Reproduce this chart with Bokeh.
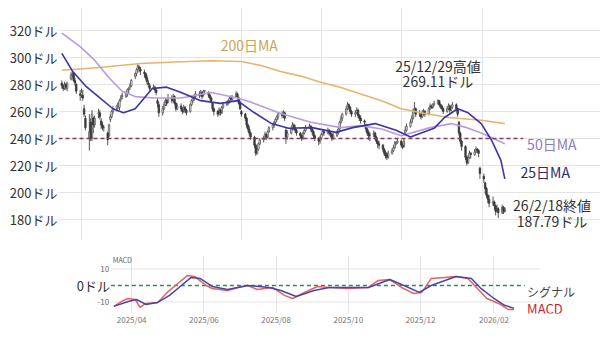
import numpy as np
import pandas as pd
from bokeh.plotting import figure
from bokeh.layouts import column
from bokeh.models import (Range1d, Label, DatetimeTickFormatter, FixedTicker, ColumnDataSource)
from bokeh.embed import file_html
from bokeh.resources import INLINE

FONT = "Noto Sans CJK JP"

# ---------------- data ----------------
dates = pd.bdate_range("2025-03-17", "2026-02-18")

opens = [281,279,277,280,277, 284,287,288,283,280, 273,272,272,262,255, 240,252,240,255,250,
         258,259,253,250,248, 244,242,254,256,260, 262,264,263,269,271, 271,273,276,278,279,
         286,288,291,293,291, 289,288,285,281,279, 277,278,276,268,265, 259,262,265,268,267,
         270,268,271,266,262, 264,262,260,263,261, 260,265,268,270,271, 273,272,274,272,275,
         274,272,270,266,262, 260,258,261,259,263, 265,266,268,270,269, 271,273,270,266,260,
         258,255,250,247,244, 241,235,229,232,236, 239,240,243,241,245, 248,250,252,254,256,
         258,257,259,246,241, 244,247,250,248,246, 244,242,240,244,246, 248,249,247,245,242,
         240,238,240,243,245, 244,246,244,243,240, 242,244,247,252,255, 258,262,265,263,260,
         258,259,261,257,255, 253,250,247,244,242, 243,244,241,238,236, 235,232,229,228,226,
         229,231,233,236,237, 238,235,234,244,246, 249,252,255,260,262, 258,258,256,259,260,
         258,262,264,263,265, 266,268,265,264,262, 260,262,264,261,263, 265,262,252,244,238,
         234,226,222,226,229, 228,230,232,231,218, 212,207,203,198,195, 192,193,190,186,188,
         185,189,186]
highs = [283,280,282,281,282, 289,290,289,285,281, 276,277,276,265,257, 258,255,261,256,257,
         262,261,255,252,250, 245,251,258,261,264, 265,267,269,272,274, 275,277,278,281,284,
         289,292,295,294,293, 291,289,287,283,281, 280,279,277,270,267, 264,267,270,269,273,
         272,273,272,267,266, 266,263,265,264,262, 266,269,271,273,275, 275,276,275,276,276,
         275,273,271,267,263, 261,263,262,264,266, 268,269,271,272,272, 275,274,271,268,261,
         259,256,251,249,245, 242,236,234,237,240, 242,245,244,246,249, 251,253,255,257,259,
         260,261,260,248,246, 249,252,251,250,247, 245,243,245,247,250, 251,250,248,246,243,
         241,242,244,247,246, 248,247,245,244,244, 246,248,253,257,259, 264,267,266,264,261,
         261,263,262,258,257, 254,251,248,246,245, 246,245,242,239,238, 236,233,231,230,231,
         233,235,238,238,240, 239,237,240,249,251, 254,257,262,267,263, 261,259,261,262,261,
         263,266,265,266,268, 269.11,268,266,265,263, 264,266,265,265,267, 266,263,253,245,239,
         235,227,228,231,230, 232,234,233,232,219, 214,208,204,199,198, 197,194,191,191,189,
         191,190,189]
lows = [277,275,276,276,275, 283,285,282,279,273, 268,270,268,256,246, 231,238,238,244,248,
        255,254,247,246,245, 235,241,252,255,258, 260,262,261,267,269, 270,271,273,276,278,
        284,286,289,289,287, 285,283,280,278,275, 276,274,272,263,256, 257,261,264,264,266,
        266,267,265,260,261, 260,258,259,259,257, 259,264,266,268,270, 270,271,269,271,274,
        270,268,266,260,257, 256,257,257,258,262, 264,265,266,267,268, 270,269,265,261,256,
        253,248,245,242,239, 233,227,228,231,235, 237,239,239,240,244, 246,248,250,252,254,
        255,255,253,236,239, 243,246,246,244,242, 240,238,239,243,245, 247,245,243,240,238,
        235,236,239,242,242, 243,242,241,238,239, 241,243,246,251,253, 257,261,261,258,256,
        256,258,255,253,251, 249,245,242,239,238, 241,239,236,233,232, 230,227,225,224,225,
        228,230,232,235,236, 233,232,233,243,245, 248,251,254,259,256, 256,254,255,257,256,
        257,261,262,262,264, 265,263,262,261,258, 259,261,259,260,262, 260,256,242,236,231,
        224,220,221,225,225, 227,229,229,226,210, 207,199,196,192,189, 190,187,183,185,181,
        184,184,185]
closes = [279,277,280,278,281, 287,288,283,281,275, 272,274,270,258,248, 245,240,258,250,255,
          259,256,250,248,248, 239,250,256,260,262, 264,266,268,270,272, 274,276,277,279,283,
          288,291,294,292,290, 288,285,282,280,277, 278,276,274,266,259, 262,265,268,266,270,
          268,271,266,262,264, 262,260,263,261,259, 265,268,270,271,273, 272,274,271,275,275,
          272,270,268,262,260, 258,261,259,263,265, 266,268,270,269,271, 273,270,266,262,258,
          255,250,247,244,241, 235,229,232,236,239, 240,243,241,245,248, 250,252,254,256,258,
          257,259,255,241,244, 247,250,248,246,244, 242,240,244,246,248, 249,247,245,242,240,
          238,240,243,245,244, 246,244,243,240,242, 244,247,252,255,258, 262,265,263,260,258,
          259,261,257,255,253, 252,247,244,242,243, 244,241,238,236,235, 232,229,227,226,229,
          231,233,236,237,238, 235,234,238,246,249, 252,255,260,262,258, 258,256,259,260,258,
          262,264,263,265,266, 268,265,264,262,260, 262,264,261,263,265, 262,258,244,238,234,
          226,222,226,229,228, 230,232,231,229,214, 210,203,198,195,192, 193,190,186,188,185,
          189,186,187.79]

ma200_dates = ["2025-03-17","2025-04-15","2025-05-16","2025-06-16","2025-07-09","2025-08-01",
               "2025-08-16","2025-08-31","2025-09-16","2025-10-01","2025-10-16","2025-10-31",
               "2025-11-16","2025-12-01","2025-12-16","2026-01-06","2026-01-31","2026-02-18"]
ma200_vals = [290.5,292.6,295.5,296.8,297.5,297,294,289.6,286,281.5,277.8,273,268,262,259,
              255.5,253.5,251]

ma50_dates = ["2025-03-17","2025-03-31","2025-04-11","2025-04-22","2025-05-02","2025-05-12",
              "2025-05-27","2025-06-16","2025-07-09","2025-07-29","2025-08-08","2025-08-31",
              "2025-09-23","2025-10-16","2025-10-31","2025-11-16","2025-12-01","2025-12-23",
              "2026-01-08","2026-01-20","2026-01-31","2026-02-18"]
ma50_vals = [318,308,298,285,275,271,270,270,274,270,267,258.5,252,248,249.5,247,242,248,251,
             248,244,236]

ma25_dates = ["2025-03-17","2025-03-25","2025-04-04","2025-04-15","2025-04-25","2025-05-03",
              "2025-05-12","2025-05-25","2025-06-05","2025-06-16","2025-07-01","2025-07-16",
              "2025-07-29","2025-08-11","2025-08-24","2025-09-06","2025-09-24","2025-10-12",
              "2025-10-25","2025-11-11","2025-11-27","2025-12-08","2025-12-26","2026-01-03",
              "2026-01-13","2026-01-21","2026-01-31","2026-02-08","2026-02-15","2026-02-18"]
ma25_vals = [303,290,279,270,262,259,262,277,278,274,268,266,268,259,251,247.5,248,244.5,248,
             251,246,241,247.5,255.5,262,259,251,238.5,223.7,210]

support_level = 240

macd_dates = ["2025-03-17","2025-03-25","2025-03-29","2025-04-04","2025-04-08","2025-04-13",
              "2025-04-23","2025-05-01","2025-05-11","2025-05-18","2025-05-24","2025-06-03",
              "2025-06-08","2025-06-21","2025-06-30","2025-07-08","2025-07-16","2025-07-29",
              "2025-08-08","2025-08-15","2025-08-25","2025-09-05","2025-09-15","2025-09-30",
              "2025-10-18","2025-10-26","2025-11-05","2025-11-15","2025-11-25","2025-12-02",
              "2025-12-10","2025-12-21","2025-12-31","2026-01-10","2026-01-18","2026-01-26",
              "2026-02-05","2026-02-13","2026-02-18"]
macd_vals = [-12.7,-9.1,-7.9,-8.5,-13.3,-10.9,-10.3,-4.2,1.8,6,5.5,0,-1.8,-3,-1.2,0,-2.4,-1.2,
             -6,-7.9,-4.2,-0.6,-1.2,-1.8,-1.2,3,3.6,-1.2,-4.8,-4.2,4.2,4.8,5.5,4.2,-1.8,-7.9,
             -10.9,-14.5,-14.5]

signal_dates = ["2025-03-17","2025-03-29","2025-04-05","2025-04-13","2025-04-23","2025-05-03",
                "2025-05-13","2025-05-21","2025-05-29","2025-06-08","2025-06-21","2025-07-08",
                "2025-07-26","2025-08-05","2025-08-18","2025-09-02","2025-09-15","2025-10-18",
                "2025-11-05","2025-11-17","2025-11-30","2025-12-10","2025-12-31","2026-01-13",
                "2026-01-21","2026-01-31","2026-02-10","2026-02-18"]
signal_vals = [-12.7,-9.7,-8.5,-11.5,-10.3,-6,0,4.8,4.2,-0.6,-2.4,0,-1.2,-3,-6.7,-3,-1.2,-1.2,
               3.6,0,-4.2,0,5.5,4.2,-1.8,-7.3,-12,-13.9]

price_ticks = [180, 200, 220, 240, 260, 280, 300, 320]
macd_ticks = [-10, 0, 10]
month_ticks = ["2025-04-01", "2025-06-01", "2025-08-01", "2025-10-01", "2025-12-01",
               "2026-02-01"]


def ms(s):
    return pd.Timestamp(s).value / 1e6


PLOT_LEFT = "2025-03-14 10:48"     # left edge of the price frame
GRID_RIGHT = "2026-03-12"          # where the horizontal grid lines stop
VIEW_RIGHT = "2026-05-02"          # right edge of the canvas
month_ms = [ms(d) for d in month_ticks]

# ---------------- main price chart ----------------
p = figure(width=600, height=248, x_axis_type="datetime",
           x_range=Range1d(ms(PLOT_LEFT), ms(VIEW_RIGHT)),
           y_range=Range1d(164.4, 337), output_backend="svg", toolbar_location=None,
           min_border_left=58, min_border_right=0, min_border_top=7, min_border_bottom=8)
p.outline_line_color = None
p.xaxis.visible = False
p.xgrid.ticker = FixedTicker(ticks=month_ms, minor_ticks=[])
p.ygrid.ticker = FixedTicker(ticks=price_ticks, minor_ticks=[])
p.ygrid.bounds = (ms(PLOT_LEFT), ms(GRID_RIGHT))
p.xgrid.grid_line_color = "#e4e4e4"
p.ygrid.grid_line_color = "#e4e4e4"
p.yaxis.ticker = FixedTicker(ticks=price_ticks, minor_ticks=[])
p.yaxis.major_label_overrides = {t: f"{t}ドル" for t in price_ticks}
p.yaxis.axis_line_color = None
p.yaxis.major_tick_line_color = None
p.yaxis.minor_tick_line_color = None
p.yaxis.major_tick_out = 0
p.yaxis.major_tick_in = 0
p.yaxis.major_label_standoff = 1
p.yaxis.major_label_text_font = FONT
p.yaxis.major_label_text_font_size = "13px"
p.yaxis.major_label_text_color = "#333333"

o = np.array(opens, dtype=float)
c = np.array(closes, dtype=float)
up = c >= o
src_all = ColumnDataSource(dict(date=dates, high=highs, low=lows))
src_up = ColumnDataSource(dict(date=dates[up], top=c[up], bottom=o[up]))
src_dn = ColumnDataSource(dict(date=dates[~up], top=o[~up], bottom=c[~up]))
bar_w = 1.1 * 86400000

p.segment(x0="date", y0="high", x1="date", y1="low", source=src_all,
          line_color="#555555", line_width=1)
p.vbar(x="date", width=bar_w, top="top", bottom="bottom", source=src_up,
       fill_color="white", line_color="#555555", line_width=0.8)
p.vbar(x="date", width=bar_w, top="top", bottom="bottom", source=src_dn,
       fill_color="#3a3a3a", line_color="#3a3a3a", line_width=0.8)

p.line([ms(d) for d in ma200_dates], ma200_vals, line_color="#E6B46E", line_width=1.6)
p.line([ms(d) for d in ma50_dates], ma50_vals, line_color="#B99BE0", line_width=1.6)
p.line([ms(d) for d in ma25_dates], ma25_vals, line_color="#3C33A6", line_width=1.6)
p.line([ms(PLOT_LEFT), ms("2026-03-04")], [support_level, support_level],
       line_color="#7B3C5E", line_width=1.5, line_dash="4 3")


def lab(fig, x, y, text, color, size, align="left"):
    fig.add_layout(Label(x=ms(x), y=y, text=text, text_color=color, text_font=FONT,
                         text_font_size=size, text_align=align, text_baseline="middle"))


lab(p, "2025-08-07", 309, "200日MA", "#C9A45C", "14px", "center")
lab(p, "2025-12-29", 294, "25/12/29高値", "#333333", "14px", "center")
lab(p, "2025-12-29", 282.2, "269.11ドル", "#333333", "14px", "center")
lab(p, "2026-03-07", 235.6, "50日MA", "#8E7DB8", "14px", "left")
lab(p, "2026-03-02", 214.8, "25日MA", "#2C2A6C", "14px", "left")
lab(p, "2026-03-26", 190.4, "26/2/18終値", "#333333", "14px", "center")
lab(p, "2026-03-26", 178.5, "187.79ドル", "#333333", "14px", "center")

# ---------------- MACD pane ----------------
MACD_LEFT = "2025-01-29 04:33"     # canvas left edge for the MACD pane
m = figure(width=600, height=90, x_axis_type="datetime",
           x_range=Range1d(ms(MACD_LEFT), ms(VIEW_RIGHT)),
           y_range=Range1d(-17, 18.2), output_backend="svg", toolbar_location=None,
           min_border_left=0, min_border_right=0, min_border_top=7, min_border_bottom=25,
           y_axis_location=None)
m.outline_line_color = None
m.xaxis.ticker = FixedTicker(ticks=month_ms, minor_ticks=[])
m.xaxis.formatter = DatetimeTickFormatter(months="%Y/%m", years="%Y/%m", days="%Y/%m")
m.xaxis.axis_line_color = None
m.xaxis.major_tick_line_color = None
m.xaxis.minor_tick_line_color = None
m.xaxis.major_tick_out = 0
m.xaxis.major_tick_in = 0
m.xaxis.major_label_standoff = 0
m.xaxis.major_label_text_font = FONT
m.xaxis.major_label_text_font_size = "8px"
m.xaxis.major_label_text_color = "#777777"
m.xgrid.ticker = FixedTicker(ticks=month_ms, minor_ticks=[])
m.xgrid.grid_line_color = "#e4e4e4"
m.xgrid.bounds = (-17, 18.2)
m.ygrid.visible = False
# horizontal grid lines at the MACD ticks
for t in macd_ticks:
    if t != 0:
        m.line([ms(PLOT_LEFT), ms(GRID_RIGHT)], [t, t], line_color="#e4e4e4", line_width=1)

m.line([ms(PLOT_LEFT), ms("2026-02-27")], [0, 0], line_color="#2E8B57",
       line_width=1.5, line_dash="4 3")
m.line([ms(d) for d in macd_dates], macd_vals, line_color="#E8605F", line_width=1.5)
m.line([ms(d) for d in signal_dates], signal_vals, line_color="#4646A8", line_width=1.5)

for t in macd_ticks:
    if t != 0:
        lab(m, "2025-03-13", t, str(t), "#666666", "8px", "right")
lab(m, "2025-03-16", 15.2, "MACD", "#666666", "7px", "left")
lab(m, "2025-03-13 18:00", 0, "0ドル", "#333333", "13px", "right")
lab(m, "2026-03-01", -3.6, "シグナル", "#444444", "12px", "left")
lab(m, "2026-03-01", -13.9, "MACD", "#CC2233", "13px", "left")

layout = column(p, m)
open("out.html", "w").write(file_html(layout, INLINE))
